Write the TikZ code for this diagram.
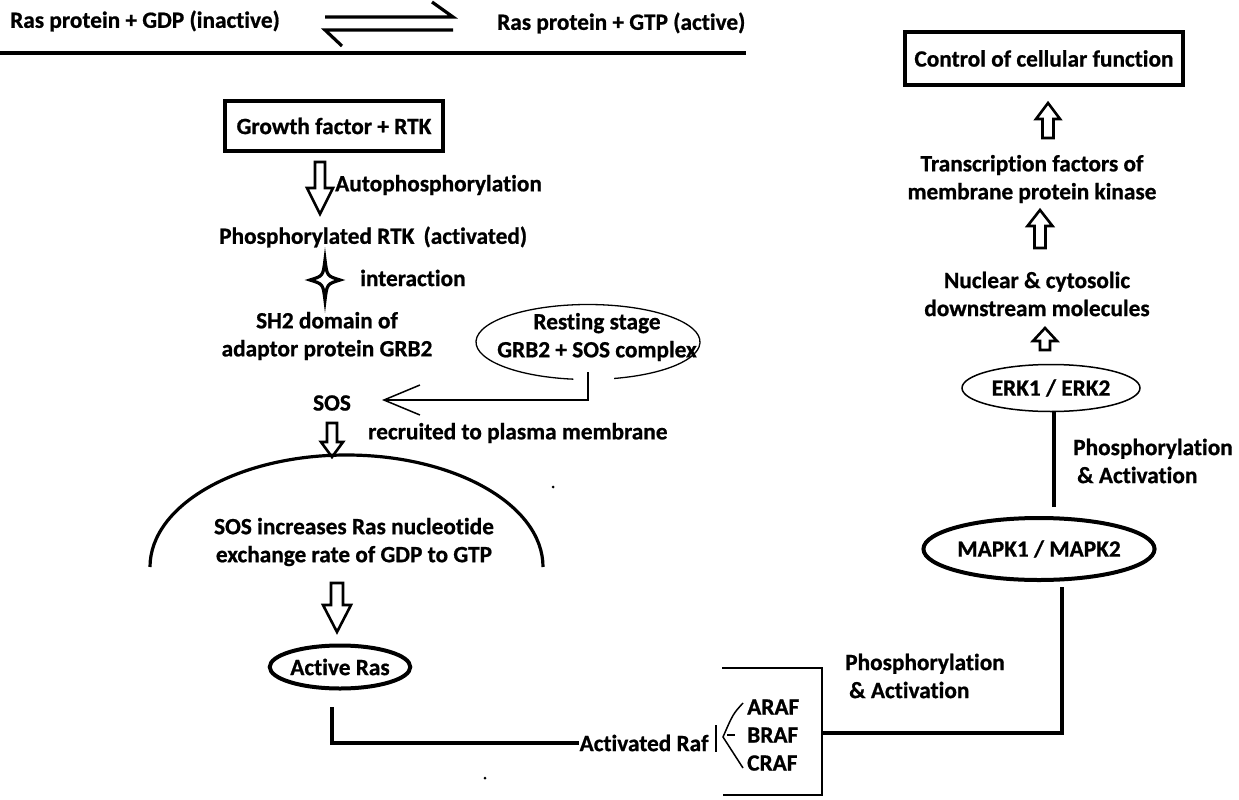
\documentclass[tikz,border=0pt]{standalone}
\usepackage{fontspec}
\setmainfont{Carlito}[Ligatures=NoCommon, BoldFeatures={FakeBold=0.8}]
\usetikzlibrary{arrows.meta,shapes.geometric}
\newcommand{\hollowarr}[6]{% x, ytail, ytip, shaft half width, head half width, head length (signed)
  \draw[hollow] ({#1-#4},{#2}) -- ({#1-#4},{#3-(#6)}) -- ({#1-#5},{#3-(#6)}) -- ({#1},{#3}) -- ({#1+#5},{#3-(#6)}) -- ({#1+#4},{#3-(#6)}) -- ({#1+#4},{#2}) -- cycle;}
\begin{document}
\begin{tikzpicture}[x=1pt,y=-1pt,
  lbl/.style={font=\fontsize{23.3}{28}\selectfont\bfseries, inner sep=0pt},
  thickbox/.style={lbl, draw, line width=3.5pt},
  hollow/.style={draw, line width=2.6pt, line join=miter, fill=white},
  heavy/.style={line width=4pt},
  thin/.style={line width=1.5pt}]
\useasboundingbox (0,0) rectangle (1239,800);
\fill[white] (0,0) rectangle (1239,800);

% top equilibrium
\node[lbl, anchor=west] (gdp) at (10,21) {Ras protein + GDP (inactive)};
\node[lbl, anchor=west] (gtp) at (497,23) {Ras protein + GTP (active)};
\coordinate (eqa) at (325,17); \coordinate (eqb) at (453,17);
\coordinate (eqc) at (453,30); \coordinate (eqd) at (325,30);
\draw[line width=3.2pt] (eqa) -- (eqb) -- ++(-21,-15);
\draw[line width=3.2pt] (eqc) -- (eqd) -- ++(17,16);
\coordinate (rulel) at (0,53); \coordinate (ruler) at (746,53);
\draw[heavy] (rulel) -- (ruler);

% left column
\node[thickbox, minimum width=218pt, minimum height=50pt] (gf) at (334,126) {Growth factor + RTK};
\hollowarr{320}{162}{214}{5}{13}{26}
\node[lbl, anchor=west] (auto) at (335,185) {Autophosphorylation};
\node[lbl, anchor=west] (phos) at (219,237) {Phosphorylated RTK\,\ (activated)};
\coordinate (st) at (325,280);
\draw[line width=3.2pt, line join=miter] (325,260) .. controls (327,276) .. (340,280)
   .. controls (327,284) .. (325,300) .. controls (323,284) .. (310,280)
   .. controls (323,276) .. (325,260) -- cycle;
\node[lbl, anchor=west] (inter) at (360,278) {interaction};
\node[lbl, align=center] (sh2) at (327,336) {SH2 domain of\\adaptor protein GRB2};

% resting stage ellipse (open at the bottom)
\coordinate (restc) at (588,342);
\draw[line width=1.3pt] (restc) ++(97.5:112 and 37.5) arc[start angle=97.5, end angle=436.5, x radius=112, y radius=37.5];
\node[lbl, align=center] (rest) at (597,337) {Resting stage\\GRB2 + SOS complex};
\node[lbl] (sos) at (332,403) {SOS};
\coordinate (restout) at (588,372);
\coordinate (sostip) at (382,400);
\draw[thin, -{Straight Barb[length=36pt,width=30pt,line width=1.5pt]}] (restout) |- (sostip);
\hollowarr{332}{423}{457}{5}{11}{15}
\node[lbl, anchor=west] (recr) at (368,433) {recruited to plasma membrane};

% membrane arc
\coordinate (arcl) at (150,567);
\draw[line width=3.2pt] (arcl) arc[start angle=180, end angle=0, x radius=196.5, y radius=-112];
\node[lbl, align=center] (inc) at (354,542) {SOS increases Ras nucleotide\\exchange rate of GDP to GTP};
\hollowarr{337}{583}{632}{6}{14}{27}
\node[lbl, draw, ellipse, line width=4pt, minimum width=128pt, minimum height=43pt, inner sep=0pt] (ras) at (340,667) {Active Ras};

% bottom connection
\coordinate (rasout) at (332,707);
\node[lbl] (raf) at (644,743) {Activated Raf};
\draw[heavy] (rasout) |- (raf.west);
\coordinate (bar1) at (716,725); \coordinate (bar2) at (716,752);
\draw[thin] (bar1) -- (bar2);
\coordinate (fork) at (723,737);
\draw[thin] (743,703) .. controls (733,714) .. (fork) -- (743,768);
\draw[thin] (727,735) -- (735,735);
\node[lbl, anchor=west] (araf) at (747,707) {ARAF};
\node[lbl, anchor=west] (braf) at (747,735) {BRAF};
\node[lbl, anchor=west] (craf) at (747,763) {CRAF};
\coordinate (brtl) at (722,668); \coordinate (brtr) at (822,668);
\coordinate (brbr) at (822,795); \coordinate (brbl) at (723,795);
\draw[thin] (brtl) -- (brtr) -- (brbr) -- (brbl);
\coordinate (brmid) at (822,733);
\node[lbl, align=left, anchor=west] (pa1) at (845,676) {Phosphorylation\\\hspace{4pt}\& Activation};

% right column
\node[lbl, draw, ellipse, line width=4pt, minimum width=208pt, minimum height=62pt, inner sep=0pt] (mapk) at (1039,549) {MAPK1 / MAPK2};
\coordinate (mapkin) at (1062,587);
\draw[heavy] (brmid) -| (mapkin);
\node[lbl, draw, ellipse, line width=1.5pt, minimum width=178pt, minimum height=47pt, inner sep=0pt] (erk) at (1051,388) {ERK1 / ERK2};
\coordinate (mapkout) at (1054,507);
\coordinate (erkin) at (1054,412);
\draw[heavy] (mapkout) -- (erkin);
\node[lbl, align=left, anchor=west] (pa2) at (1073,461) {Phosphorylation\\\hspace{4pt}\& Activation};
\hollowarr{1045}{350}{328}{5}{12}{-13}
\node[lbl, align=center] (nuc) at (1037,294) {Nuclear \& cytosolic\\downstream molecules};
\hollowarr{1040}{248}{210}{5.5}{12.5}{-16}
\node[lbl, align=center] (tf) at (1032,179) {Transcription factors of\\membrane protein kinase};
\hollowarr{1048}{138}{103}{5.5}{12}{-16}
\node[thickbox, minimum width=278pt, minimum height=53pt] (ctrl) at (1044,58.5) {Control of cellular function};

% stray dots
\fill (553,487) circle (1.5pt);
\fill (485,778) circle (1.5pt);
\end{tikzpicture}
\end{document}
